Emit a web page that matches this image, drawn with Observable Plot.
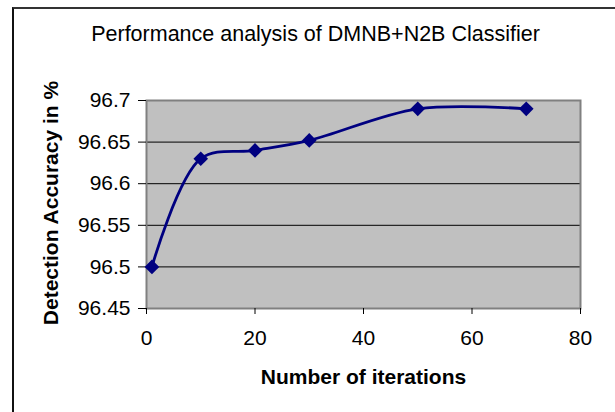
<!DOCTYPE html>
<html>
<head>
<meta charset="utf-8">
<script src="https://cdn.jsdelivr.net/npm/d3@7"></script>
<script src="https://cdn.jsdelivr.net/npm/@observablehq/plot@0.6"></script>
<style>
  html, body { margin: 0; padding: 0; background: #fff; }
  #wrap { position: relative; width: 615px; height: 412px; overflow: hidden; }
  #border { position: absolute; left: 12px; top: 7px; width: 700px; height: 500px;
            border-top: 2px solid #333; border-left: 2px solid #111; }
  #wrap svg { position: absolute; left: 0; top: 0; }
</style>
</head>
<body>
<div id="wrap"><div id="border"></div></div>
<script>
const title = "Performance analysis of DMNB+N2B Classifier";
const xTitle = "Number of iterations";
const yTitle = "Detection Accuracy in %";
const iterations = [1, 10, 20, 30, 50, 70];
const accuracy = [96.50, 96.63, 96.64, 96.652, 96.69, 96.69];
const xTicks = [0, 20, 40, 60, 80];
const yTicks = [96.45, 96.5, 96.55, 96.6, 96.65, 96.7];

const data = iterations.map((x, i) => ({x, y: accuracy[i]}));
const fmt = d => String(+d.toFixed(2));

const chart = Plot.plot({
  width: 615,
  height: 412,
  marginLeft: 146,
  marginRight: 35,
  marginTop: 100,
  marginBottom: 104,
  style: {fontFamily: "'Liberation Sans', Arial, sans-serif", fontSize: "21px", color: "#000", background: "transparent", overflow: "visible"},
  x: {domain: [0, 80]},
  y: {domain: [96.45, 96.7]},
  marks: [
    Plot.frame({fill: "#c0c0c0", stroke: "none"}),
    Plot.ruleY(yTicks.slice(1, -1), {stroke: "#000", strokeWidth: 1}),
    Plot.frame({stroke: "#808080", strokeWidth: 2}),
    Plot.axisY({ticks: yTicks, tickFormat: fmt, tickSize: 8, tickPadding: 8, label: null, stroke: "#000", fontSize: 21}),
    Plot.axisX({ticks: xTicks, tickFormat: fmt, tickSize: 6, tickPadding: 16, label: null, stroke: "#000", fontSize: 21}),
    Plot.line(data, {x: "x", y: "y", curve: "catmull-rom", stroke: "#000080", strokeWidth: 2.8}),
    Plot.dot(data, {x: "x", y: "y", symbol: "diamond2", fill: "#000080", stroke: "none", r: 6.6}),
    Plot.text([title], {frameAnchor: "top", lineAnchor: "middle", dy: -66.5, dx: -48, fontSize: 21.5, fill: "#000"}),
    Plot.text([xTitle], {frameAnchor: "bottom", lineAnchor: "middle", dy: 68.5, fontSize: 21, fontWeight: "bold", fill: "#000"}),
    Plot.text([yTitle], {frameAnchor: "left", textAnchor: "middle", lineAnchor: "middle", dx: -95, dy: -1.5, rotate: -90, fontSize: 21, fontWeight: "bold", fill: "#000"})
  ]
});
document.getElementById("wrap").appendChild(chart);
</script>
</body>
</html>
